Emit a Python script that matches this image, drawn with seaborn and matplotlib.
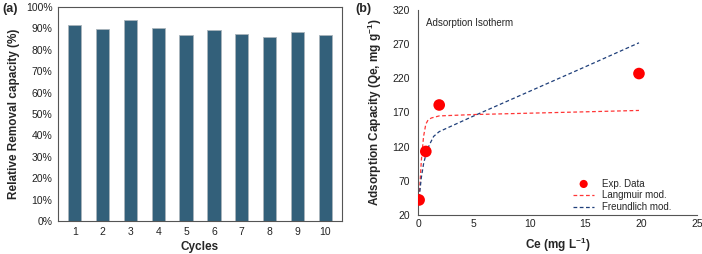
import matplotlib
matplotlib.use("Agg")
from matplotlib import pyplot as plt
from matplotlib.ticker import PercentFormatter
import numpy as np
import pandas as pd
import seaborn as sns

# Dati pannello (a): capacita' relativa per ciclo
cicli = ["1", "2", "3", "4", "5", "6", "7", "8", "9", "10"]
capacita = [91.5, 89.5, 94.0, 90.3, 87.0, 89.2, 87.6, 85.9, 88.1, 86.8]

# Dati pannello (b): isoterma
ce_exp = [0.1, 0.7, 1.9, 19.8]
qe_exp = [42, 113, 181, 227]

ce_lang = [0.1, 0.3, 0.5, 0.7, 0.9, 1.2, 1.9, 5.0, 10.0, 15.0, 19.8]
qe_lang = [45, 100, 135, 153, 159, 162, 165, 167, 169, 171, 173]

ce_freu = [0.1, 0.3, 0.5, 0.7, 1.0, 1.4, 1.9, 5.0, 10.0, 15.0, 19.8]
qe_freu = [45, 75, 95, 108, 122, 135, 142, 165, 201, 237, 272]

sns.set_theme(style="white")
plt.rcParams['font.family'] = ['Liberation Sans', 'DejaVu Sans']
plt.rcParams['mathtext.fontset'] = 'custom'
plt.rcParams['mathtext.rm'] = 'Liberation Sans'
plt.rcParams['mathtext.bf'] = 'Liberation Sans:bold'

fig = plt.figure(figsize=(7.02, 2.54), dpi=100)
ax1 = fig.add_axes([58/702, 1-221/254, 284/702, 214/254])
ax2 = fig.add_axes([418/702, 1-215/254, 279/702, 205/254])

# Pannello (a)
df_a = pd.DataFrame({"Ciclo": cicli, "Capacita": capacita})
sns.barplot(data=df_a, x="Ciclo", y="Capacita", color="#33607a", saturation=1,
            width=0.48, edgecolor="#a9b4bb", linewidth=0.6, ax=ax1)
ax1.set_ylim(0, 100)
ax1.set_yticks(np.arange(0, 101, 10))
ax1.yaxis.set_major_formatter(PercentFormatter(decimals=0))
ax1.set_xlim(-0.6, 9.6)
ax1.tick_params(axis="both", length=0, labelsize=7.5, pad=4, colors="#222222")
ax1.set_xlabel("Cycles", fontsize=8.5, fontweight="bold", labelpad=3)
ax1.set_ylabel("Relative Removal capacity (%)", fontsize=8.5, fontweight="bold", labelpad=4)
for s in ax1.spines.values():
    s.set_color("#555555")
    s.set_linewidth(0.8)

# Pannello (b)
df_exp = pd.DataFrame({"Ce": ce_exp, "Qe": qe_exp})
df_lang = pd.DataFrame({"Ce": ce_lang, "Qe": qe_lang})
df_freu = pd.DataFrame({"Ce": ce_freu, "Qe": qe_freu})

sns.lineplot(data=df_lang, x="Ce", y="Qe", color="#ff3535", linestyle=(0, (3, 2)),
             linewidth=0.9, sort=False, ax=ax2, label="Langmuir mod.")
sns.lineplot(data=df_freu, x="Ce", y="Qe", color="#1f3f7a", linestyle=(0, (3, 2)),
             linewidth=0.9, sort=False, ax=ax2, label="Freundlich mod.")
sns.scatterplot(data=df_exp, x="Ce", y="Qe", color="#ff0000", s=70,
                edgecolor="none", ax=ax2, label="Exp. Data", zorder=5)

ax2.set_xlim(0, 25)
ax2.set_ylim(20, 320)
ax2.set_xticks(np.arange(0, 26, 5))
ax2.set_yticks(np.arange(20, 321, 50))
ax2.tick_params(axis="x", direction="in", length=3, labelsize=7.5, colors="#222222", pad=3)
ax2.tick_params(axis="y", direction="out", length=3, labelsize=7.5, colors="#222222", pad=3)
for s in ["top", "right"]:
    ax2.spines[s].set_visible(False)
for s in ["left", "bottom"]:
    ax2.spines[s].set_color("#555555")
    ax2.spines[s].set_linewidth(0.8)
ax2.set_xlabel("Ce (mg L$^{\\mathbf{-1}}$)", fontsize=8.5, fontweight="bold", labelpad=5)
ax2.set_ylabel("Adsorption Capacity (Qe, mg g$^{\\mathbf{-1}}$)", fontsize=8.5,
               fontweight="bold", labelpad=6)
ax2.text(0.03, 0.96, "Adsorption Isotherm", transform=ax2.transAxes,
         fontsize=7, va="top", ha="left")

h, l = ax2.get_legend_handles_labels()
ordine = [2, 0, 1]
ax2.legend([h[i] for i in ordine], [l[i] for i in ordine], loc="lower right",
           bbox_to_anchor=(0.94, -0.03), frameon=False, fontsize=7,
           handlelength=2.2, labelspacing=0.2, markerscale=0.7)

fig.text(2/702, 1-9/254, "(a)", fontsize=9, fontweight="bold", va="center")
fig.text(355/702, 1-9/254, "(b)", fontsize=9, fontweight="bold", va="center")

fig.savefig("out.png", dpi=100)
